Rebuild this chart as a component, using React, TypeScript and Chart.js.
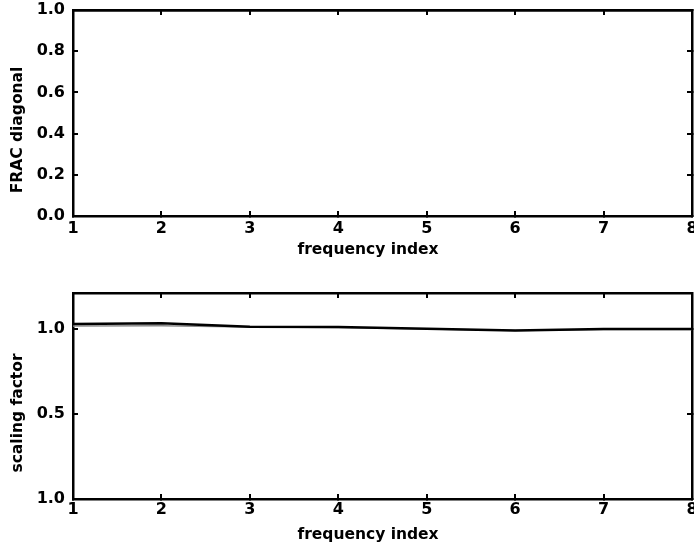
import React, { useEffect, useRef } from "react";
import { Chart, registerables } from "chart.js";

Chart.register(...registerables);

// ---- data ----
const frequencyIndex = [1, 2, 3, 4, 5, 6, 7, 8];
const fracDiagonal = [1.0, 1.0, 1.0, 1.0, 1.0, 1.0, 1.0, 1.0];
const scalingEstimated = [1.028, 1.033, 1.012, 1.01, 1.0, 0.99, 0.998, 0.998];
const scalingReference = [1.016, 1.017, 1.011, 1.008, 0.998, 0.99, 0.996, 0.996];

const xTickValues = [1, 2, 3, 4, 5, 6, 7, 8];
const xTickLabels = ["1", "2", "3", "4", "5", "6", "7", "8"];
const fracTickValues = [0, 0.2, 0.4, 0.6, 0.8, 1.0];
const fracTickLabels = ["0.0", "0.2", "0.4", "0.6", "0.8", "1.0"];
const scaleTickValues = [0, 0.5, 1.0];
const scaleTickLabels = ["1.0", "0.5", "1.0"];

const xTitle = "frequency index";
const fracTitle = "FRAC diagonal";
const scaleTitle = "scaling factor";

const FONT = "DejaVu Sans";

const axisTitlePlugin = {
  id: "axisTitleText",
  afterDraw(chart: any, _args: any, opts: any) {
    const { ctx, chartArea } = chart;
    ctx.save();
    ctx.fillStyle = "#000";
    ctx.font = `bold ${opts.size}px "${FONT}"`;
    ctx.textAlign = "center";
    ctx.textBaseline = "middle";
    ctx.fillText(opts.xText, opts.xCenter, chartArea.bottom + opts.xDy);
    ctx.translate(opts.yCenter, chartArea.top + opts.yDy);
    ctx.rotate(-Math.PI / 2);
    ctx.fillText(opts.yText, 0, 0);
    ctx.restore();
  },
};

function fixSize(size: number, horizontal: boolean) {
  return (scale: any) => {
    if (horizontal) scale.height = size;
    else scale.width = size;
    scale.paddingLeft = 0;
    scale.paddingRight = 0;
    scale.paddingTop = 0;
    scale.paddingBottom = 0;
  };
}

function setTicks(values: number[]) {
  return (scale: any) => {
    scale.ticks = values.map((v) => ({ value: v }));
  };
}

function labelFor(values: number[], labels: string[]) {
  return (v: any) => {
    const i = values.findIndex((t) => Math.abs(t - Number(v)) < 1e-9);
    return i >= 0 ? labels[i] : "";
  };
}

const gridOpts = {
  display: true,
  drawOnChartArea: false,
  drawTicks: true,
  tickLength: -5,
  color: "#000",
  lineWidth: 2,
};
const borderOpts = { display: true, color: "#000", width: 2.5 };
const tickFont = { family: FONT, size: 16, weight: "bold" as const };

interface PanelSpec {
  datasets: any[];
  yMin: number;
  yMax: number;
  yTickValues: number[];
  yTickLabels: string[];
  yTitle: string;
  padTop: number;
  xHeight: number;
  xPad: number;
  xTitleDy: number;
}

function buildConfig(p: PanelSpec): any {
  return {
    type: "line",
    data: { datasets: p.datasets },
    plugins: [axisTitlePlugin],
    options: {
      animation: false,
      responsive: false,
      devicePixelRatio: 1,
      layout: { padding: { top: p.padTop, right: 2, bottom: 0, left: 0 } },
      plugins: {
        legend: { display: false },
        tooltip: { enabled: false },
        axisTitleText: {
          size: 15.5,
          xText: xTitle,
          yText: p.yTitle,
          xCenter: 368,
          xDy: p.xTitleDy,
          yCenter: 18,
          yDy: 120,
        },
      },
      scales: {
        x: {
          type: "linear",
          position: "bottom",
          min: 1,
          max: 8,
          afterBuildTicks: setTicks(xTickValues),
          afterFit: fixSize(p.xHeight, true),
          grid: gridOpts,
          border: borderOpts,
          ticks: {
            color: "#000",
            font: tickFont,
            padding: p.xPad,
            maxRotation: 0,
            autoSkip: false,
            callback: labelFor(xTickValues, xTickLabels),
          },
        },
        x2: {
          type: "linear",
          position: "top",
          min: 1,
          max: 8,
          afterBuildTicks: setTicks(xTickValues),
          afterFit: fixSize(0, true),
          grid: gridOpts,
          border: borderOpts,
          ticks: { display: false },
        },
        y: {
          type: "linear",
          position: "left",
          min: p.yMin,
          max: p.yMax,
          afterBuildTicks: setTicks(p.yTickValues),
          afterFit: fixSize(73, false),
          grid: gridOpts,
          border: borderOpts,
          ticks: {
            color: "#000",
            font: tickFont,
            padding: 13,
            autoSkip: false,
            callback: labelFor(p.yTickValues, p.yTickLabels),
          },
        },
        y2: {
          type: "linear",
          position: "right",
          min: p.yMin,
          max: p.yMax,
          afterBuildTicks: setTicks(p.yTickValues),
          afterFit: fixSize(0, false),
          grid: gridOpts,
          border: borderOpts,
          ticks: { display: false },
        },
      },
    },
  };
}

function Panel({ spec }: { spec: PanelSpec }) {
  const ref = useRef<HTMLCanvasElement | null>(null);
  useEffect(() => {
    if (!ref.current) return;
    const chart = new Chart(ref.current, buildConfig(spec));
    return () => chart.destroy();
  }, [spec]);
  return (
    <div style={{ position: "relative", width: 694, height: 274 }}>
      <canvas ref={ref} width={694} height={274} style={{ display: "block" }} />
    </div>
  );
}

const topSpec: PanelSpec = {
  datasets: [
    {
      label: fracTitle,
      data: frequencyIndex.map((x, i) => ({ x, y: fracDiagonal[i] })),
      borderColor: "#000",
      borderWidth: 3,
      pointRadius: 0,
      tension: 0,
      xAxisID: "x",
      yAxisID: "y",
    },
  ],
  yMin: 0,
  yMax: 1.0,
  yTickValues: fracTickValues,
  yTickLabels: fracTickLabels,
  yTitle: fracTitle,
  padTop: 10,
  xHeight: 58,
  xPad: 8,
  xTitleDy: 34,
};

const bottomSpec: PanelSpec = {
  datasets: [
    {
      label: "scaling factor (estimated)",
      data: frequencyIndex.map((x, i) => ({ x, y: scalingEstimated[i] })),
      borderColor: "#000",
      borderWidth: 2.5,
      pointRadius: 0,
      tension: 0,
      xAxisID: "x",
      yAxisID: "y",
    },
    {
      label: "scaling factor (reference)",
      data: frequencyIndex.map((x, i) => ({ x, y: scalingReference[i] })),
      borderColor: "#8a8a8a",
      borderWidth: 1.5,
      pointRadius: 0,
      tension: 0,
      xAxisID: "x",
      yAxisID: "y",
    },
  ],
  yMin: 0,
  yMax: 1.21,
  yTickValues: scaleTickValues,
  yTickLabels: scaleTickLabels,
  yTitle: scaleTitle,
  padTop: 19,
  xHeight: 49,
  xPad: 6,
  xTitleDy: 36,
};

export default function App() {
  return (
    <div
      style={{
        position: "absolute",
        left: 0,
        top: 0,
        width: 694,
        height: 548,
        overflow: "hidden",
        background: "#fff",
      }}
    >
      <Panel spec={topSpec} />
      <Panel spec={bottomSpec} />
    </div>
  );
}
